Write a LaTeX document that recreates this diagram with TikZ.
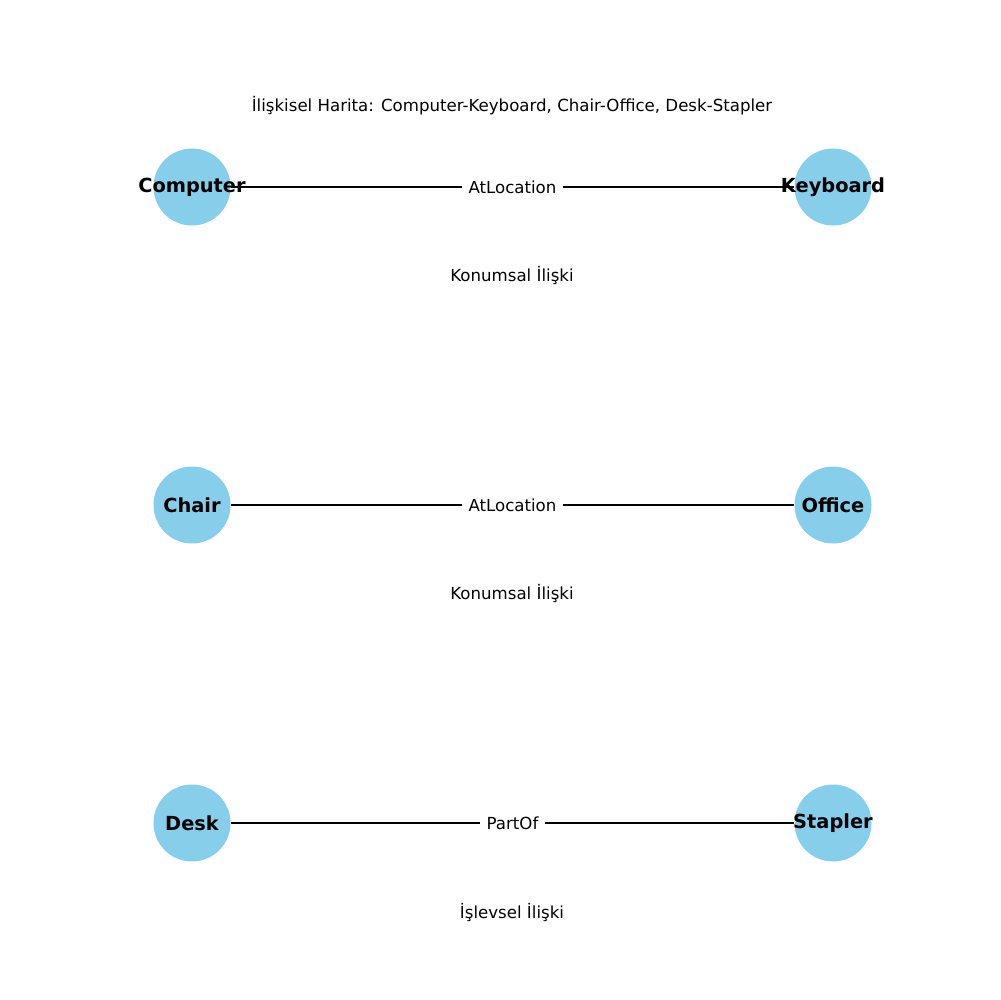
\documentclass[tikz,border=0pt]{standalone}
\usepackage{fontspec}
\setmainfont{DejaVu Sans}
\definecolor{skyblue}{HTML}{87CEEB}
\begin{document}
\begin{tikzpicture}[x=0.01in,y=-0.01in,
  ent/.style={circle,fill=skyblue,draw=none,minimum size=77*0.01in,inner sep=0pt},
  entlabel/.style={font=\fontsize{14}{16}\bfseries\selectfont,inner sep=0pt},
  rel/.style={draw=black,line width=1.9pt},
  elabel/.style={fill=white,font=\fontsize{12}{14}\selectfont,inner xsep=5pt,inner ysep=2pt},
  note/.style={font=\fontsize{12}{14}\selectfont,inner sep=0pt}]
\useasboundingbox (0,0) rectangle (1000,1000);
\node[note] (title) at (512,106) {İlişkisel Harita: Computer-Keyboard, Chair-Office, Desk-Stapler};
% nodes
\node[ent] (computer) at (192,187) {};
\node[ent] (keyboard) at (833,187) {};
\node[ent] (chair) at (192,505) {};
\node[ent] (office) at (833,505) {};
\node[ent] (desk) at (192,823) {};
\node[ent] (stapler) at (833,823) {};
% edges
\draw[rel] (computer) -- node[elabel] (e1) {AtLocation} (keyboard);
\draw[rel] (chair) -- node[elabel] (e2) {AtLocation} (office);
\draw[rel] (desk) -- node[elabel] (e3) {PartOf} (stapler);
% node labels
\node[entlabel] (tcomputer) at (computer) {Computer};
\node[entlabel] (tkeyboard) at (keyboard) {Keyboard};
\node[entlabel] (tchair) at (chair) {Chair};
\node[entlabel] (toffice) at (office) {Office};
\node[entlabel] (tdesk) at (desk) {Desk};
\node[entlabel] (tstapler) at (stapler) {Stapler};
% notes
\node[note] (n1) at (512,276) {Konumsal İlişki};
\node[note] (n2) at (512,594) {Konumsal İlişki};
\node[note] (n3) at (512,912) {İşlevsel İlişki};
\end{tikzpicture}
\end{document}
